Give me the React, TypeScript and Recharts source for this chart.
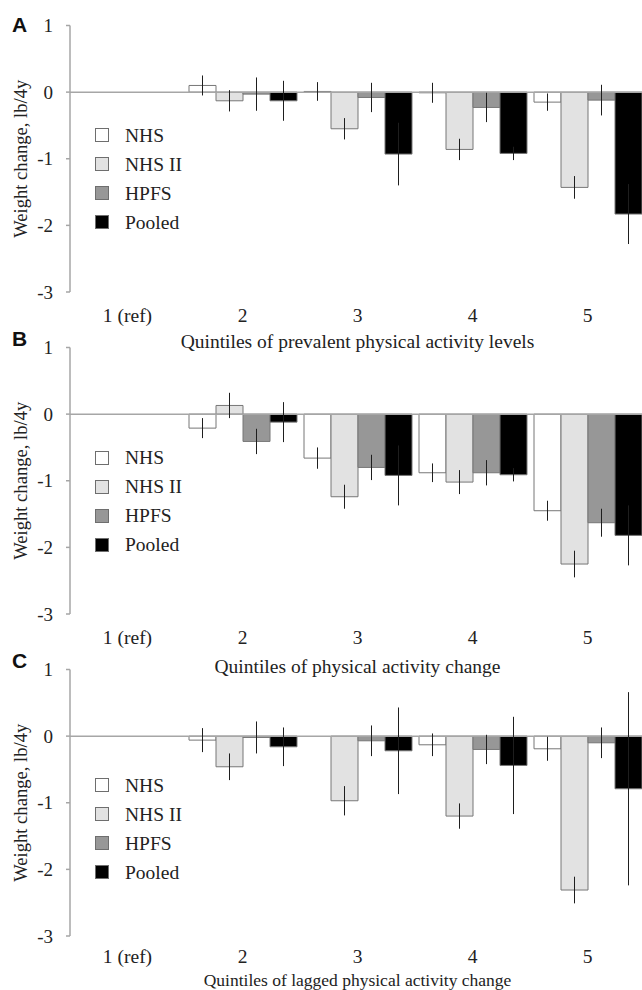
import React from 'react';
import { BarChart, Bar, XAxis, YAxis, ErrorBar, ReferenceLine, Legend } from 'recharts';

const categories = ['1 (ref)', '2', '3', '4', '5'];
const seriesNames = ['NHS', 'NHS II', 'HPFS', 'Pooled'];
const yTicks = [-3, -2, -1, 0, 1];

// A: prevalent physical activity levels
const aNhs = [0, 0.1, 0.01, -0.01, -0.15];
const aNhsErr = [0, 0.15, 0.14, 0.15, 0.13];
const aNhs2 = [0, -0.13, -0.55, -0.86, -1.43];
const aNhs2Err = [0, 0.16, 0.16, 0.16, 0.17];
const aHpfs = [0, -0.03, -0.08, -0.23, -0.12];
const aHpfsErr = [0, 0.25, 0.22, 0.22, 0.23];
const aPooled = [0, -0.13, -0.93, -0.92, -1.83];
const aPooledErr = [0, 0.3, 0.47, 0.1, 0.45];

// B: physical activity change
const bNhs = [0, -0.21, -0.66, -0.88, -1.45];
const bNhsErr = [0, 0.15, 0.16, 0.14, 0.15];
const bNhs2 = [0, 0.13, -1.24, -1.02, -2.25];
const bNhs2Err = [0, 0.19, 0.18, 0.18, 0.2];
const bHpfs = [0, -0.41, -0.8, -0.88, -1.63];
const bHpfsErr = [0, 0.19, 0.19, 0.19, 0.21];
const bPooled = [0, -0.12, -0.92, -0.91, -1.82];
const bPooledErr = [0, 0.3, 0.45, 0.1, 0.45];

// C: lagged physical activity change
const cNhs = [0, -0.06, 0, -0.13, -0.19];
const cNhsErr = [0, 0.18, 0.17, 0.17, 0.18];
const cNhs2 = [0, -0.46, -0.97, -1.2, -2.31];
const cNhs2Err = [0, 0.2, 0.22, 0.19, 0.2];
const cHpfs = [0, -0.02, -0.07, -0.2, -0.1];
const cHpfsErr = [0, 0.24, 0.23, 0.22, 0.23];
const cPooled = [0, -0.16, -0.22, -0.44, -0.79];
const cPooledErr = [0, 0.29, 0.65, 0.73, 1.45];

const FONT = '"Liberation Serif", "Times New Roman", serif';
const FS = 19.5;
const FILLS = ['#ffffff', '#e2e2e2', '#979797', '#000000'];
const AXIS = '#a6a6a6';
const KEYS = ['nhs', 'nhs2', 'hpfs', 'pooled'];
const CH = 370;

const buildRows = (vals: number[][], errs: number[][]) =>
  categories.map((c, i) => {
    const row: any = { category: c };
    KEYS.forEach((k, s) => {
      row[k] = vals[s][i];
      row[k + 'Err'] = errs[s][i];
    });
    return row;
  });

const panels = [
  {
    letter: 'A',
    title: 'Quintiles of prevalent physical activity levels',
    rows: buildRows([aNhs, aNhs2, aHpfs, aPooled], [aNhsErr, aNhs2Err, aHpfsErr, aPooledErr]),
    legendTop: 120.5,
    titleBase: 348,
    titleSize: FS,
    tickGap: 16,
    letterTop: 25,
  },
  {
    letter: 'B',
    title: 'Quintiles of physical activity change',
    rows: buildRows([bNhs, bNhs2, bHpfs, bPooled], [bNhsErr, bNhs2Err, bHpfsErr, bPooledErr]),
    legendTop: 121,
    titleBase: 351,
    titleSize: FS,
    tickGap: 16,
    letterTop: 16.5,
  },
  {
    letter: 'C',
    title: 'Quintiles of lagged physical activity change',
    rows: buildRows([cNhs, cNhs2, cHpfs, cPooled], [cNhsErr, cNhs2Err, cHpfsErr, cPooledErr]),
    legendTop: 126.5,
    titleBase: 342,
    titleSize: 17.5,
    tickGap: 13,
    letterTop: 17,
  },
];

const renderLegend = (props: any) => {
  const items = [...(props.payload || [])].sort(
    (a: any, b: any) => seriesNames.indexOf(a.value) - seriesNames.indexOf(b.value)
  );
  return (
    <div>
      {items.map((entry: any) => (
        <div key={entry.value} style={{ display: 'flex', alignItems: 'center', height: 29 }}>
          <span
            style={{
              display: 'inline-block',
              width: 12,
              height: 12,
              background: entry.color,
              border: '1px solid #6e6e6e',
            }}
          />
          <span style={{ marginLeft: 16, fontFamily: FONT, fontSize: FS, color: '#222', lineHeight: '29px' }}>
            {entry.value}
          </span>
        </div>
      ))}
    </div>
  );
};

const yLabel = (props: any) => {
  const vb = props.viewBox || { y: 25, height: 267 };
  const cx = 20;
  const cy = vb.y + vb.height / 2;
  return (
    <text
      x={cx}
      y={cy}
      transform={`rotate(-90, ${cx}, ${cy})`}
      textAnchor="middle"
      dominantBaseline="central"
      fontFamily={FONT}
      fontSize={18.6}
      fill="#222"
    >
      Weight change, lb/4y
    </text>
  );
};

const Panel = ({ p }: { p: any }) => (
  <div style={{ position: 'relative', width: 650, height: CH, fontFamily: FONT }}>
    <BarChart
      width={650}
      height={CH}
      data={p.rows}
      margin={{ top: 25.5, right: 5, bottom: 0, left: 0 }}
      barCategoryGap={4}
      barGap={0}
      style={{ fontFamily: FONT }}
    >
      <XAxis
        dataKey="category"
        axisLine={false}
        tickLine={false}
        tickSize={0}
        tickMargin={p.tickGap}
        height={CH - 292}
        interval={0}
        tick={{ fill: '#222', fontSize: FS, fontFamily: FONT }}
        label={{
          value: p.title,
          position: 'insideBottom',
          offset: CH - p.titleBase,
          fill: '#222',
          fontSize: p.titleSize,
          fontFamily: FONT,
        }}
      />
      <YAxis
        domain={[-3, 1]}
        ticks={yTicks}
        width={70}
        axisLine={{ stroke: AXIS, strokeWidth: 1.5 }}
        tickLine={{ stroke: AXIS, strokeWidth: 1.5 }}
        tickSize={4}
        tickMargin={13}
        tick={{ fill: '#222', fontSize: 19, fontFamily: FONT }}
        label={{ content: yLabel }}
      />
      <ReferenceLine y={0} stroke={AXIS} strokeWidth={1.5} />
      <Legend
        layout="vertical"
        align="center"
        verticalAlign="middle"
        content={renderLegend}
        wrapperStyle={{ left: 95, top: p.legendTop, width: 'auto', height: 'auto' }}
      />
      {KEYS.map((k, s) => (
        <Bar
          key={k}
          dataKey={k}
          name={seriesNames[s]}
          fill={FILLS[s]}
          stroke="#777777"
          strokeWidth={1}
          isAnimationActive={false}
        >
          <ErrorBar dataKey={k + 'Err'} width={0} stroke="#1e1e1e" strokeWidth={1} />
        </Bar>
      ))}
    </BarChart>
    <div
      style={{
        position: 'absolute',
        left: 12,
        top: p.letterTop - 12,
        fontFamily: '"Liberation Sans", Arial, sans-serif',
        fontWeight: 'bold',
        fontSize: 21,
        lineHeight: '24px',
        color: '#111',
      }}
    >
      {p.letter}
    </div>
  </div>
);

export default function App() {
  return (
    <div
      style={{
        position: 'absolute',
        left: 0,
        top: 0,
        width: 642,
        height: 990,
        overflow: 'hidden',
        background: '#fff',
      }}
    >
      {panels.map((p, i) => (
        <div key={p.letter} style={{ position: 'absolute', left: 0, top: i * 322 }}>
          <Panel p={p} />
        </div>
      ))}
    </div>
  );
}
